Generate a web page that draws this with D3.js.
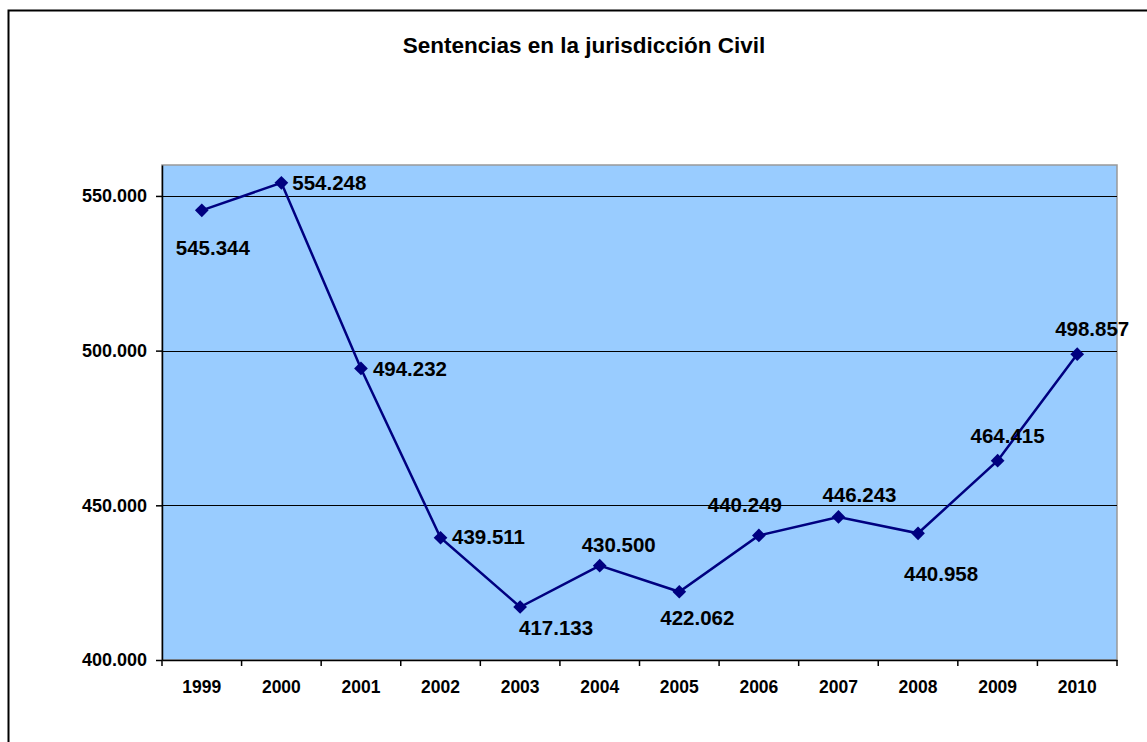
<!DOCTYPE html>
<html>
<head>
<meta charset="utf-8">
<script src="https://cdn.jsdelivr.net/npm/d3@7"></script>
<style>
  body { margin: 0; background: #fff; }
  text { font-family: "Liberation Sans", Arial, sans-serif; font-weight: bold; fill: #000; }
</style>
</head>
<body>
<div id="chart"></div>
<script>
// data
var years = ["1999", "2000", "2001", "2002", "2003", "2004", "2005", "2006", "2007", "2008", "2009", "2010"];
var sentencias = [545344, 554248, 494232, 439511, 417133, 430500, 422062, 440249, 446243, 440958, 464415, 498857];
var yTicks = [400000, 450000, 500000, 550000];

// where each data label sits (centre, relative to its marker)
var labelDx = [11, 48, 49, 48, 36, 19, 18, -14, 21, 23, 10, 15];
var labelDy = [37, 0, 0, -1, 21, -21, 26, -31, -22, 40, -25, -26];

var W = 1147, H = 742;
var plot = { left: 162, top: 165, right: 1117, bottom: 660 };

var fmt = function (v) {
  return d3.format(",.0f")(v).replace(/,/g, ".");
};

var svg = d3.select("#chart")
  .append("svg")
  .attr("width", W)
  .attr("height", H);

// outer chart frame (right / bottom edges run off the picture)
svg.append("rect")
  .attr("x", 8.5).attr("y", 10.5)
  .attr("width", 1160).attr("height", 760)
  .attr("fill", "#fff")
  .attr("stroke", "#000")
  .attr("stroke-width", 2);

svg.append("text")
  .attr("x", 584).attr("y", 53)
  .attr("text-anchor", "middle")
  .style("font-size", "22.5px")
  .text("Sentencias en la jurisdicción Civil");

var x = d3.scaleBand()
  .domain(years)
  .range([plot.left, plot.right])
  .padding(0);

var y = d3.scaleLinear()
  .domain([400000, 560000])
  .range([plot.bottom, plot.top]);

// plot area
svg.append("rect")
  .attr("x", plot.left).attr("y", plot.top)
  .attr("width", plot.right - plot.left)
  .attr("height", plot.bottom - plot.top)
  .attr("fill", "#99ccff")
  .attr("stroke", "#999")
  .attr("stroke-width", 1.5);

// gridlines
svg.append("g")
  .selectAll("line")
  .data(yTicks.filter(function (d) { return d > 400000; }))
  .enter()
  .append("line")
  .attr("x1", plot.left).attr("x2", plot.right)
  .attr("y1", function (d) { return Math.round(y(d)) + 0.5; })
  .attr("y2", function (d) { return Math.round(y(d)) + 0.5; })
  .attr("stroke", "#000")
  .attr("stroke-width", 1);

// y axis
var yAxis = svg.append("g")
  .attr("transform", "translate(" + plot.left + ",0)")
  .call(d3.axisLeft(y).tickValues(yTicks).tickFormat(fmt).tickSize(6).tickSizeOuter(0).tickPadding(9));
yAxis.selectAll("text").style("font-size", "18px");
yAxis.selectAll("line, path").attr("stroke", "#000").attr("stroke-width", 1.5);

// x axis
var xAxis = svg.append("g")
  .attr("transform", "translate(0," + plot.bottom + ")")
  .call(d3.axisBottom(x).tickSize(0).tickSizeOuter(0).tickPadding(21));
xAxis.selectAll("text").style("font-size", "17.5px");
xAxis.select("path").attr("stroke", "#000").attr("stroke-width", 1.5);

// ticks at category boundaries
xAxis.selectAll(".sep")
  .data(years.concat(["end"]))
  .enter()
  .append("line")
  .attr("class", "sep")
  .attr("x1", function (d, i) { return plot.left + i * x.step(); })
  .attr("x2", function (d, i) { return plot.left + i * x.step(); })
  .attr("y1", 0).attr("y2", 6)
  .attr("stroke", "#000")
  .attr("stroke-width", 1.5);

var cx = function (d, i) { return x(years[i]) + x.bandwidth() / 2; };

// series line
var line = d3.line()
  .x(function (d, i) { return cx(d, i); })
  .y(function (d) { return y(d); });

svg.append("path")
  .datum(sentencias)
  .attr("d", line)
  .attr("fill", "none")
  .attr("stroke", "#000080")
  .attr("stroke-width", 2.5);

// diamond markers
svg.append("g")
  .selectAll("path")
  .data(sentencias)
  .enter()
  .append("path")
  .attr("d", d3.symbol().type(d3.symbolDiamond2).size(120))
  .attr("transform", function (d, i) {
    return "translate(" + cx(d, i) + "," + y(d) + ")";
  })
  .attr("fill", "#000080");

// data labels
svg.append("g")
  .selectAll("text")
  .data(sentencias)
  .enter()
  .append("text")
  .style("font-size", "20.5px")
  .attr("x", function (d, i) { return cx(d, i) + labelDx[i]; })
  .attr("y", function (d, i) { return y(d) + labelDy[i]; })
  .attr("dy", "0.36em")
  .attr("text-anchor", "middle")
  .text(function (d) { return fmt(d); });
</script>
</body>
</html>
